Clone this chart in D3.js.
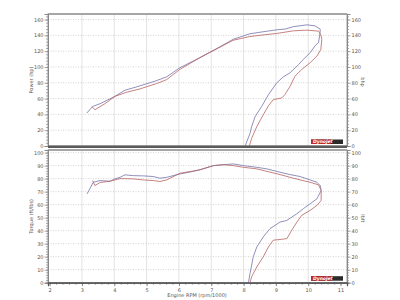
<!DOCTYPE html>
<html lang="en">
  <head>
    <meta charset="utf-8">
    <title>Dyno run</title>
    <script type="text/javascript" src="https://cdn.jsdelivr.net/npm/d3@7"></script>
    <style>
      body { margin: 0; background: #fff; }
      text { font-family: "DejaVu Sans", sans-serif; fill: #555; }
    </style>
  </head>
  <body>
    <script type="text/javascript">
      // rpm (x1000) tick labels
      var rpmTicks = [2, 3, 4, 5, 6, 7, 8, 9, 10, 11];
      var powerTicks = [0, 20, 40, 60, 80, 100, 120, 140, 160];
      var torqueTicks = [0, 10, 20, 30, 40, 50, 60, 70, 80, 90, 100];

      // power run, [rpm, hp] - pull then coast down
      var powerBlue = [
        [3.15, 41.7], [3.33, 50], [3.56, 53.5], [4.02, 62.8], [4.33, 70.5],
        [4.69, 74.8], [5.26, 82], [5.62, 87.5], [6.03, 99], [6.65, 111.8],
        [7.2, 124], [7.68, 135], [8.2, 142], [8.6, 144.5], [9.03, 147], [9.3, 148],
        [9.54, 151], [9.96, 153.3], [10.21, 152], [10.37, 147.9],
        [10.37, 143.6], [10.32, 131], [10.21, 126.6], [10.06, 118], [9.85, 109.6],
        [9.7, 103], [9.44, 92.7], [9.23, 87.5], [9.03, 80], [8.77, 65],
        [8.56, 50], [8.36, 37.4], [8.25, 24.6], [8.2, 16], [8.1, 5.5], [8.05, 0]
      ];
      var powerRed = [
        [3.31, 49.7], [3.4, 45.9], [3.71, 53.5], [4.02, 62.8], [4.38, 68],
        [4.8, 72.3], [5.31, 79], [5.62, 84], [6.03, 96.9], [6.65, 111.8],
        [7.2, 123.5], [7.68, 133.8], [8.2, 138.5], [8.6, 140.5], [9.03, 142.4],
        [9.54, 145.7], [9.96, 146.6], [10.32, 145.3], [10.4, 139.3],
        [10.42, 135], [10.39, 122], [10.27, 113.8], [10.06, 105.4], [9.8, 96.9],
        [9.59, 88.3], [9.44, 75.6], [9.28, 65], [9.18, 60.8], [8.92, 58.6],
        [8.77, 51], [8.61, 39.5], [8.41, 24.6], [8.25, 9.8], [8.18, 0]
      ];

      // torque run, [rpm, ft/lbs]
      var torqueBlue = [
        [3.16, 68.3], [3.35, 77.2], [3.56, 78.5], [3.87, 78], [4.02, 79.8],
        [4.18, 81], [4.33, 82.9], [4.59, 82.3], [4.9, 82.1], [5.21, 81.6],
        [5.41, 80.3], [5.62, 81], [6.03, 83.6], [6.45, 85.6], [6.65, 86.9],
        [7.07, 90], [7.38, 90.7], [7.68, 91.3], [8.0, 90], [8.41, 88.7],
        [8.72, 87.5], [9.13, 84.9], [9.44, 83.1], [9.75, 81.6], [10.06, 79],
        [10.27, 77.2], [10.37, 74.7],
        [10.4, 70.9], [10.27, 64.5], [10.06, 60.7], [9.85, 56.9], [9.65, 53],
        [9.34, 47.9], [9.13, 46.6], [8.82, 41.6], [8.61, 35.2], [8.41, 27.5],
        [8.3, 19.9], [8.2, 7.2], [8.15, 0]
      ];
      var torqueRed = [
        [3.33, 78.5], [3.4, 74.7], [3.56, 77], [3.87, 78], [4.18, 80],
        [4.59, 79.8], [4.9, 79], [5.21, 78.5], [5.41, 77.8], [5.62, 79],
        [6.03, 84.1], [6.45, 85.9], [6.65, 86.7], [7.07, 90], [7.38, 90.7],
        [7.68, 90], [8.0, 88.7], [8.41, 87.5], [8.72, 85.6], [9.13, 83.1],
        [9.44, 81], [9.75, 79], [10.06, 77.2], [10.32, 75.2],
        [10.4, 70.9], [10.4, 63.2], [10.27, 59.4], [10.06, 55.6], [9.8, 51.8],
        [9.65, 46.6], [9.49, 40.3], [9.34, 33.9], [9.13, 33.2], [8.92, 32.7],
        [8.77, 27.5], [8.61, 19.9], [8.41, 12.2], [8.25, 4.6], [8.2, 0]
      ];

      var w = 400, h = 300;
      var left = 48, right = 347;
      var blue = "#7474ac", red = "#b86262";

      var svg = d3.select("body").append("svg")
                  .attr("width", w)
                  .attr("height", h);

      var x = d3.scaleLinear().domain([1.95, 11.2]).range([left, right]);

      function panel(top, bottom, domain, majorTicks, minorStep, title, rightTitle, series, showX) {
        var y = d3.scaleLinear().domain([0, domain[0]]).range([bottom, domain[1]]);
        var g = svg.append("g");

        // grid
        g.selectAll(".vgrid").data(rpmTicks.slice(1, -1)).enter().append("line")
         .attr("x1", function(d) { return x(d); }).attr("x2", function(d) { return x(d); })
         .attr("y1", top).attr("y2", bottom)
         .attr("stroke", "#dcdcdc").attr("stroke-width", 0.8);
        g.selectAll(".hgrid").data(majorTicks.slice(1)).enter().append("line")
         .attr("x1", left).attr("x2", right)
         .attr("y1", function(d) { return y(d); }).attr("y2", function(d) { return y(d); })
         .attr("stroke", "#c8c8c8").attr("stroke-width", 0.8)
         .attr("stroke-dasharray", "1,1.5");

        // frame
        g.append("rect").attr("x", left).attr("y", top)
         .attr("width", right - left).attr("height", bottom - top)
         .attr("fill", "none").attr("stroke", "#a0a0a0").attr("stroke-width", 1);
        g.append("line").attr("x1", left).attr("x2", right).attr("y1", top).attr("y2", top)
         .attr("stroke", "#999").attr("stroke-width", 1.6);

        // left + right axes
        var minor = d3.range(0, y.domain()[1] + 0.001, minorStep);
        var la = d3.axisLeft(y).tickValues(minor).tickSize(2).tickFormat("");
        var ra = d3.axisRight(y).tickValues(minor).tickSize(2).tickFormat("");
        var lAxis = g.append("g").attr("transform", "translate(" + left + ",0)").call(la);
        var rAxis = g.append("g").attr("transform", "translate(" + right + ",0)").call(ra);
        lAxis.append("g").call(d3.axisLeft(y).tickValues(majorTicks).tickSize(3.5).tickPadding(1));
        rAxis.append("g").call(d3.axisRight(y).tickValues(majorTicks).tickSize(3.5).tickPadding(1));
        g.selectAll(".domain").attr("stroke", "#888");
        g.selectAll(".tick line").attr("stroke", "#888").attr("stroke-width", 0.7);
        g.selectAll(".tick text").attr("font-size", "5px").attr("fill", "#555");

        g.append("text").text(title)
         .attr("transform", "translate(33," + (top + bottom) / 2 + ") rotate(-90)")
         .attr("text-anchor", "middle").attr("font-size", "5px");
        g.append("text").text(rightTitle)
         .attr("transform", "translate(361," + ((top + bottom) / 2 + 2) + ") rotate(90)")
         .attr("text-anchor", "middle").attr("font-size", "5px");

        // bottom axis
        if (showX) {
          var xa = g.append("g").attr("transform", "translate(0," + bottom + ")");
          xa.call(d3.axisBottom(x).tickValues(d3.range(2, 11.01, 0.2)).tickSize(2).tickFormat(""));
          xa.append("g").call(d3.axisBottom(x).tickValues(rpmTicks).tickSize(3.5).tickPadding(2)
                                .tickFormat(d3.format("d")));
          xa.selectAll(".domain").attr("stroke", "#555").attr("stroke-width", 1.2);
          xa.selectAll(".tick line").attr("stroke", "#666").attr("stroke-width", 0.7);
          xa.selectAll(".tick text").attr("font-size", "5px").attr("fill", "#555");
        } else {
          g.append("rect").attr("x", left).attr("y", bottom - 0.5)
           .attr("width", right - left).attr("height", 2.5).attr("fill", "#5a5a5a");
        }

        // curves
        var line = d3.line().x(function(d) { return x(d[0]); }).y(function(d) { return y(d[1]); });
        g.selectAll(".run").data(series).enter().append("path")
         .attr("d", function(d) { return line(d.values); })
         .attr("fill", "none")
         .attr("stroke", function(d) { return d.color; })
         .attr("stroke-width", 0.8);

        // logo
        var lg = g.append("g").attr("transform", "translate(311," + (bottom - 6.5) + ")");
        lg.append("rect").attr("width", 32).attr("height", 4.5).attr("fill", "#2b2b2b");
        lg.append("rect").attr("width", 20).attr("height", 4.5).attr("fill", "#c0282a");
        lg.append("text").text("Dynojet").attr("x", 2).attr("y", 3.8)
          .attr("font-size", "4.5px").attr("font-weight", "bold").attr("font-style", "italic")
          .style("fill", "#fff");
      }

      panel(14, 146, [167, 14], powerTicks, 4, "Power (hp)", "bhp",
            [{values: powerBlue, color: blue}, {values: powerRed, color: red}], false);
      panel(150, 282.7, [102, 150], torqueTicks, 2, "Torque (ft/lbs)", "lbft",
            [{values: torqueBlue, color: blue}, {values: torqueRed, color: red}], true);

      svg.append("text").text("Engine RPM (rpm/1000)")
         .attr("x", 197).attr("y", 297)
         .attr("text-anchor", "middle").attr("font-size", "5px");
    </script>
  </body>
</html>
